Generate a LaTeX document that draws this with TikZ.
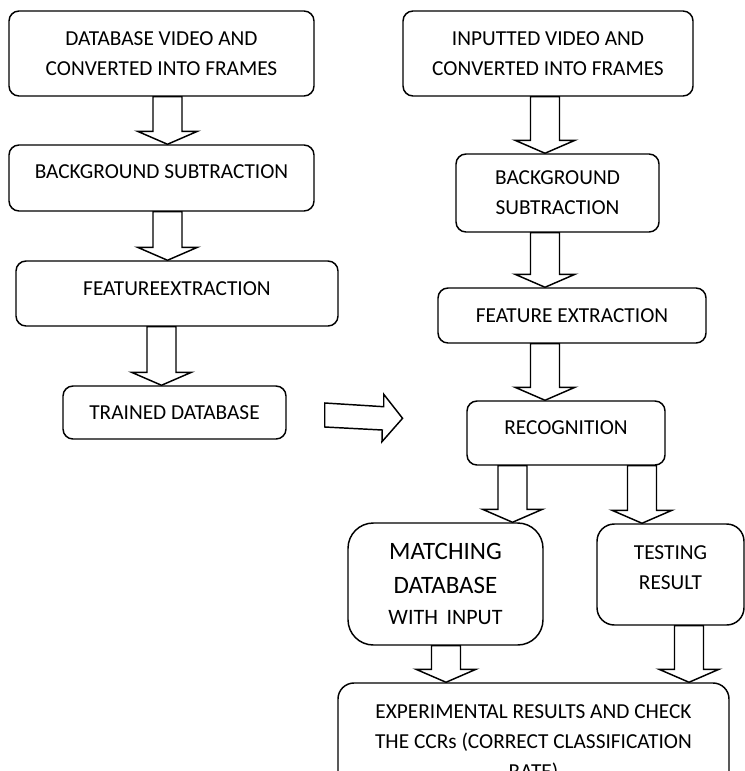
\documentclass[tikz,border=0pt]{standalone}
\usepackage{fontspec}
\setmainfont{Carlito}
\usepackage{tikz}
\usetikzlibrary{calc}

% hollow block arrow: x centre, from node, to node
\newcommand{\downblock}[3]{%
  \draw[blockarr] (#1-14.5,0 |- #2.south) -- ($(#1-14.5,0 |- #3.north)+(0,-13)$)
    -- ($(#1-30,0 |- #3.north)+(0,-13)$) -- (#1,0 |- #3.north)
    -- ($(#1+30,0 |- #3.north)+(0,-13)$) -- ($(#1+14.5,0 |- #3.north)+(0,-13)$)
    -- (#1+14.5,0 |- #2.south) -- cycle;}

\begin{document}
\begin{tikzpicture}[x=0.75pt, y=-0.75pt,
    stage/.style={draw, line width=1.1pt, rounded corners=7.5pt, align=center,
      inner sep=2pt, font=\fontsize{16}{22.5}\selectfont},
    dims/.style 2 args={minimum width=#1*0.75pt, minimum height=#2*0.75pt},
    blockarr/.style={draw, fill=white, line width=1.1pt, line join=miter}]
  \useasboundingbox (0,0) rectangle (745,771);
  \clip (0,0) rectangle (745,771);
  % Training side
  \node[stage, dims={305}{85}] (dbvid) at (161.5,53.5) {DATABASE VIDEO AND\\CONVERTED INTO FRAMES};
  \node[stage, dims={305}{66}, text depth=9pt] (bgs1) at (161.5,178) {BACKGROUND SUBTRACTION};
  \node[stage, dims={322}{65}, text depth=8pt] (fex1) at (177,293.5) {FEATUREEXTRACTION};
  \node[stage, dims={223}{53}] (tdb) at (174.5,412.5) {TRAINED DATABASE};
  % Testing side
  \node[stage, dims={290}{85}] (invid) at (548,53.5) {INPUTTED VIDEO AND\\CONVERTED INTO FRAMES};
  \node[stage, dims={203}{78}] (bgs2) at (557.5,193) {BACKGROUND\\SUBTRACTION};
  \node[stage, dims={268}{55}] (fex2) at (572,315.5) {FEATURE EXTRACTION};
  \node[stage, dims={198}{64}, text depth=7.5pt] (rec) at (566,433) {RECOGNITION};
  \node[stage, dims={195}{122}, rounded corners=19pt, font=\fontsize{18.75}{25.5}\selectfont]
    (match) at (445.5,584) {MATCHING\\DATABASE\\[-2.25pt]{\fontsize{16.5}{20}\selectfont WITH\, INPUT}};
  \node[stage, dims={147}{101}, rounded corners=13pt, text depth=9.75pt] (test) at (670.5,574.5) {TESTING\\RESULT};
  \node[stage, dims={391}{120}, rounded corners=12pt] (exp) at (533.5,743)
    {EXPERIMENTAL RESULTS AND CHECK\\THE CCRs (CORRECT CLASSIFICATION\\RATE)};
  % Arrows
  \downblock{167.5}{dbvid}{bgs1}
  \downblock{167.5}{bgs1}{fex1}
  \downblock{161.5}{fex1}{tdb}
  \downblock{545}{invid}{bgs2}
  \downblock{545}{bgs2}{fex2}
  \downblock{545}{fex2}{rec}
  \downblock{512.5}{rec}{match}
  \downblock{642}{rec}{test}
  \downblock{446}{match}{exp}
  \downblock{689}{test}{exp}
  % Trained database to recognition
  \coordinate (hs) at ($(tdb.east)+(38,2.5)$);
  \coordinate (ht) at ($(rec.west)+(-63.7,-14.7)$);
  \draw[blockarr] ($(hs)+(0,-12)$) -- ++(59,3.7) -- ++(0,-12.4) -- (ht)
    -- ++(-20.6,23.4) -- ++(0.3,-11.7) -- ($(hs)+(0,12)$) -- cycle;
\end{tikzpicture}
\end{document}
